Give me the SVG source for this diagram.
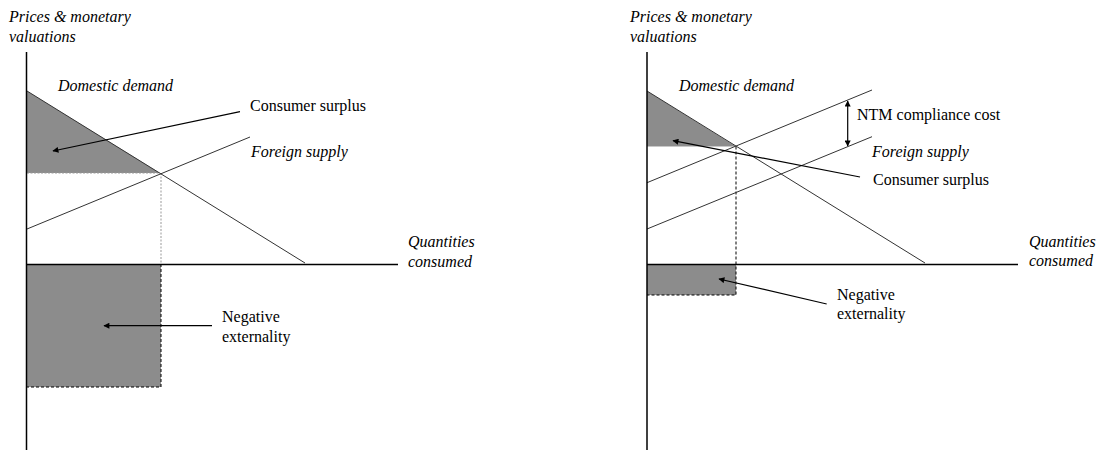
<svg xmlns="http://www.w3.org/2000/svg" width="1097" height="450" viewBox="0 0 1097 450">
<style>
text{font-family:'Liberation Serif','Times New Roman','DejaVu Serif',serif;font-size:16px;fill:#000}
.it{font-style:italic}
.ax{stroke:#000;stroke-width:1.5;fill:none}
.ln{stroke:#333;stroke-width:1;fill:none}
.ar{stroke:#000;stroke-width:1.2;fill:none}
.sh{fill:#8c8c8c;stroke:none}
.dl{stroke:#999;stroke-width:1;stroke-dasharray:2,1.5;fill:none}
.dk{stroke:#000;stroke-width:1;stroke-dasharray:3,2;fill:none}
</style>
<defs>
<marker id="ah" viewBox="0 0 10 10" refX="9" refY="5" markerWidth="7" markerHeight="6" markerUnits="userSpaceOnUse" orient="auto-start-reverse">
<path d="M0,0 L10,5 L0,10 z" fill="#000"/>
</marker>
</defs>
<g id="left-panel">
<g id="left-shading">
<polygon class="sh" points="27,91 160,173 27,173"/>
<rect class="sh" x="27" y="264" width="134" height="123"/>
</g>
<g id="left-guides">
<line class="dl" x1="27" y1="173" x2="160" y2="173"/>
<line class="dl" x1="161" y1="173" x2="161" y2="264"/>
<path class="dk" d="M161,264 V387 H27"/>
</g>
<g id="left-curves">
<line class="ln" x1="27" y1="91" x2="305" y2="263"/>
<line class="ln" x1="27" y1="229" x2="250" y2="137"/>
</g>
<g id="left-axes">
<line class="ax" x1="26.5" y1="52" x2="26.5" y2="450"/>
<line class="ax" x1="26.5" y1="264.5" x2="398" y2="264.5"/>
</g>
<g id="left-labels">
<text class="it" x="9" y="22">Prices &amp; monetary</text>
<text class="it" x="9" y="42">valuations</text>
<text class="it" x="58" y="91">Domestic demand</text>
<text x="250" y="111">Consumer surplus</text>
<text class="it" x="251" y="157">Foreign supply</text>
<text class="it" x="408" y="247">Quantities</text>
<text class="it" x="408" y="267">consumed</text>
<text x="222" y="322">Negative</text>
<text x="222" y="342">externality</text>
</g>
<g id="left-connectors">
<line class="ar" x1="240" y1="111.7" x2="53" y2="151" marker-end="url(#ah)"/>
<line class="ar" x1="212" y1="325.7" x2="104" y2="325.7" marker-end="url(#ah)"/>
</g>
</g>
<g id="right-panel">
<g id="right-shading">
<polygon class="sh" points="647,91 736,146.5 647,146.5"/>
<rect class="sh" x="647" y="264" width="89" height="31"/>
</g>
<g id="right-guides">
<line stroke="#c8c8c8" stroke-width="1.2" x1="647" y1="146.5" x2="736" y2="146.5"/>
<path class="dk" d="M736,146.5 V295 H647"/>
</g>
<g id="right-curves">
<line class="ln" x1="647" y1="91" x2="925" y2="263"/>
<line class="ln" x1="647" y1="182.7" x2="872" y2="90"/>
<line class="ln" x1="647" y1="229" x2="872" y2="136.7"/>
</g>
<g id="right-axes">
<line class="ax" x1="647" y1="52" x2="647" y2="450"/>
<line class="ax" x1="647" y1="264.5" x2="1018" y2="264.5"/>
</g>
<g id="right-labels">
<text class="it" x="630" y="22">Prices &amp; monetary</text>
<text class="it" x="630" y="42">valuations</text>
<text class="it" x="679" y="91">Domestic demand</text>
<text x="857" y="120">NTM compliance cost</text>
<text class="it" x="872" y="157">Foreign supply</text>
<text x="873" y="185">Consumer surplus</text>
<text class="it" x="1029" y="247">Quantities</text>
<text class="it" x="1029" y="266">consumed</text>
<text x="837" y="300">Negative</text>
<text x="837" y="319">externality</text>
</g>
<g id="right-connectors">
<line class="ar" x1="847.7" y1="101" x2="847.7" y2="146" marker-start="url(#ah)" marker-end="url(#ah)"/>
<line class="ar" x1="860" y1="177" x2="673" y2="140.7" marker-end="url(#ah)"/>
<line class="ar" x1="826.7" y1="304" x2="719" y2="279" marker-end="url(#ah)"/>
</g>
</g>
</svg>
